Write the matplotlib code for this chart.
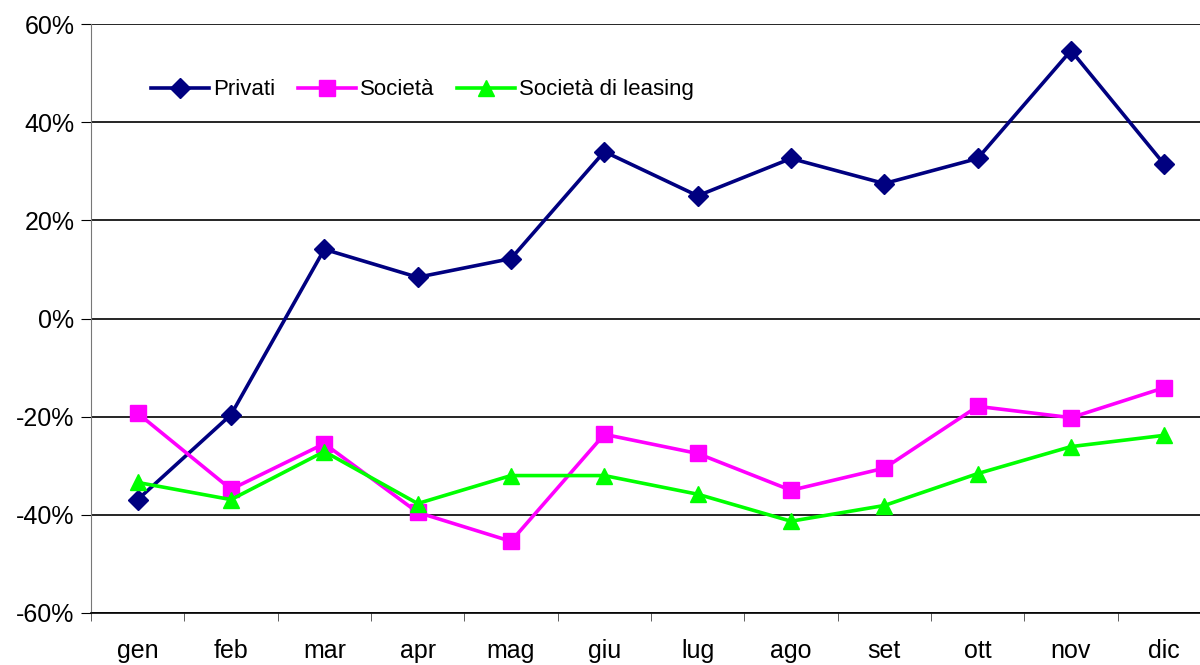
import matplotlib.pyplot as plt
import numpy as np

mesi = ["gen", "feb", "mar", "apr", "mag", "giu", "lug", "ago", "set", "ott", "nov", "dic"]
privati = [-36.9, -19.6, 14.1, 8.4, 12.2, 34.0, 25.0, 32.6, 27.5, 32.6, 54.6, 31.4]
societa = [-19.3, -34.8, -25.5, -39.5, -45.4, -23.6, -27.5, -35.0, -30.5, -17.9, -20.2, -14.1]
leasing = [-33.4, -36.9, -27.1, -37.7, -32.0, -32.0, -35.8, -41.3, -38.1, -31.6, -26.1, -23.8]
yticks = np.arange(-60, 61, 20)

plt.rcParams.update({"font.family": ["Liberation Sans", "DejaVu Sans"], "font.size": 18})

fig = plt.figure(figsize=(12, 6.65), dpi=100)
ax = fig.add_axes([91/1200, 52/665, 1120/1200, 589/665])
x = np.arange(len(mesi))

ax.plot(x, privati, color="#000080", lw=2.6, marker="D", ms=10, label="Privati")
ax.plot(x, societa, color="#FF00FF", lw=2.6, marker="s", ms=11, label="Società")
ax.plot(x, leasing, color="#00FF00", lw=2.6, marker="^", ms=12, label="Società di leasing")

ax.set_xlim(-0.5, 11.5)
ax.set_ylim(-60, 60)
ax.set_yticks(yticks)
ax.set_yticklabels([f"{v}%" for v in yticks])
ax.set_xticks(x)
ax.set_xticklabels(mesi)
ax.set_xticks(np.arange(-0.5, 11.6, 1), minor=True)
ax.tick_params(axis="x", which="major", length=0, pad=19)
ax.tick_params(axis="x", which="minor", length=6, direction="out", color="#444444")
ax.tick_params(axis="y", length=7, color="black", pad=5)
ax.grid(axis="y", color="black", lw=1.2)
ax.set_axisbelow(True)
for s in ["top", "right"]:
    ax.spines[s].set_visible(False)
ax.spines["left"].set_color("#777777")
ax.spines["bottom"].set_linewidth(1.2)

ax.legend(loc="upper left", bbox_to_anchor=(0.036, 0.94), ncol=3, frameon=False,
          fontsize=16, handlelength=2.6, handletextpad=0.2, columnspacing=1.0)

plt.savefig("out.png", dpi=100)
